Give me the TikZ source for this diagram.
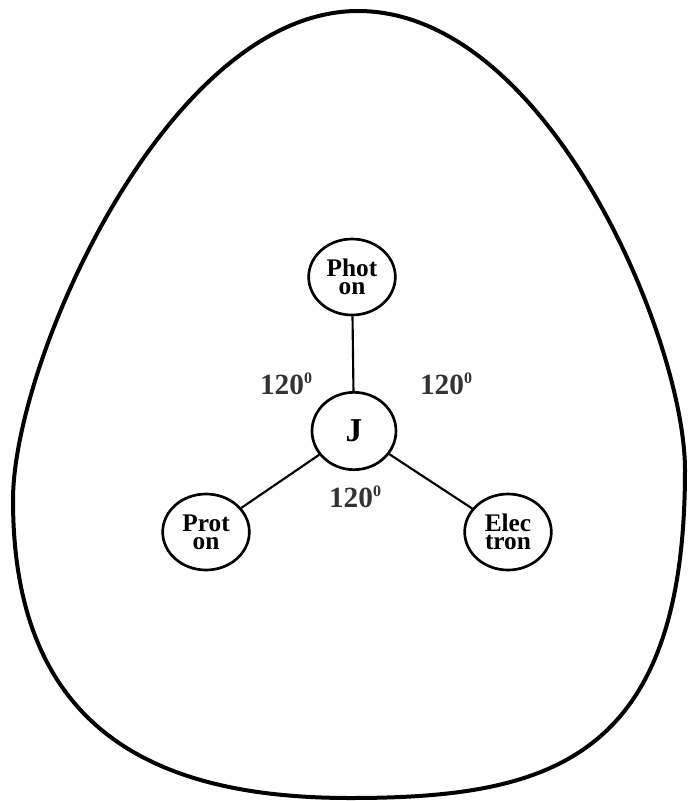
\documentclass[tikz,border=0pt]{standalone}
\usepackage{fontspec}
\setmainfont{Liberation Serif}
\usetikzlibrary{shapes.geometric}
\tikzset{every picture/.style={line width=0.75pt}}
\tikzset{
  particle/.style={draw, ellipse, line width=2pt, minimum width=65pt, minimum height=57pt, inner sep=0pt, align=center, font=\fontsize{19}{13.3}\selectfont\bfseries},
  hub/.style={draw, ellipse, line width=2pt, minimum width=63pt, minimum height=58pt, inner sep=0pt, font=\fontsize{25}{28}\selectfont\bfseries},
  anglelabel/.style={inner sep=0.75pt, text=black!80, font=\fontsize{22}{24}\selectfont\bfseries},
  link/.style={line width=1.6pt}
}
\newcommand{\supzero}{\raisebox{8.5pt}{\fontsize{12}{12}\selectfont 0}}

\begin{document}
\begin{tikzpicture}[x=0.75pt,y=0.75pt,yscale=-1,xscale=1]
\useasboundingbox (0,0) rectangle (687,801);

%Shape: Egg
\draw [line width=3pt]  (358,11) .. controls (548,11) and (685,340) .. (685,470) .. controls (685,760) and (550,798) .. (350,798) .. controls (160,798) and (13,734) .. (13,500) .. controls (13,361) and (168,11) .. (358,11) -- cycle ;

% Particle Nodes
\node [hub] (j) at (354,431) {J};
\node [particle] (photon) at (352,277) {Phot\\on};
\node [particle] (proton) at (206,532) {Prot\\on};
\node [particle] (electron) at (508,532) {Elec\\tron};

%Straight Lines
\draw [link] (photon) -- (j) ;
\draw [link] (j) -- (proton) ;
\draw [link] (j) -- (electron) ;

% Text Node
\node [anglelabel] (angleleft) at (286,384) {120\supzero};
% Text Node
\node [anglelabel] (angleright) at (446,384) {120\supzero};
% Text Node
\node [anglelabel] (anglebottom) at (355,497) {120\supzero};

\end{tikzpicture}
\end{document}
